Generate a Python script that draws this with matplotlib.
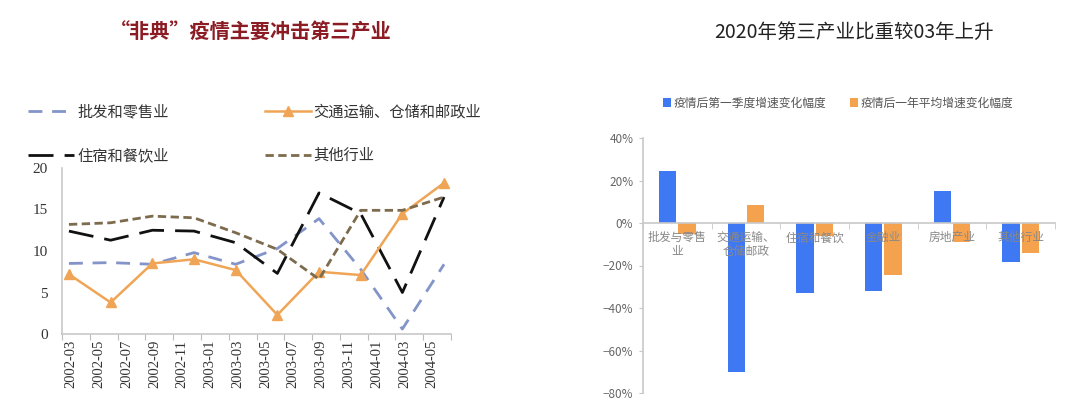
import matplotlib
matplotlib.use("Agg")
import matplotlib.pyplot as plt
import numpy as np
from matplotlib.ticker import FixedLocator, PercentFormatter

plt.rcParams['font.family'] = ['Noto Sans CJK SC', 'DejaVu Sans']

# ---------------- Left chart data ----------------
left_title = "“非典”疫情主要冲击第三产业"
month_labels = ["2002-03", "2002-05", "2002-07", "2002-09", "2002-11", "2003-01", "2003-03",
                "2003-05", "2003-07", "2003-09", "2003-11", "2004-01", "2004-03", "2004-05"]
# quarterly observations: 2002-03 ... 2004-06 (month offsets from 2002-03)
obs_month_offset = [0, 3, 6, 9, 12, 15, 18, 21, 24, 27]
wholesale = [8.5, 8.6, 8.4, 9.8, 8.4, 10.3, 13.9, 7.8, 0.6, 8.4]
transport = [7.2, 3.8, 8.5, 9.0, 7.7, 2.3, 7.5, 7.1, 14.5, 18.2]
hotel = [12.4, 11.3, 12.5, 12.4, 11.0, 7.3, 17.0, 14.5, 5.0, 16.5]
other = [13.2, 13.4, 14.2, 14.0, 12.2, 10.2, 6.6, 14.9, 14.9, 16.5]
left_series_names = ["批发和零售业", "交通运输、仓储和邮政业", "住宿和餐饮业", "其他行业"]

# ---------------- Right chart data ----------------
right_title = "2020年第三产业比重较03年上升"
industries = ["批发与零售\n业", "交通运输、\n仓储邮政", "住宿和餐饮", "金融业", "房地产业", "其他行业"]
first_quarter = [24.5, -70.0, -33.0, -32.0, 15.0, -18.5]
one_year_avg = [-5.0, 8.5, -6.0, -24.5, -9.0, -14.0]
right_series_names = ["疫情后第一季度增速变化幅度", "疫情后一年平均增速变化幅度"]

fig = plt.figure(figsize=(10.8, 4.05), dpi=100)
fig.patch.set_facecolor("white")

# ================= LEFT =================
axL = fig.add_axes([62 / 1080, 1 - 334 / 405, (451 - 62) / 1080, (334 - 168) / 405])
x = np.array(obs_month_offset) + 0.5
c_blue_line = "#8394c9"
c_orange = "#f0a556"
c_black = "#111111"
c_brown = "#7d6b4e"

h1, = axL.plot(x, wholesale, color=c_blue_line, lw=2.0, dashes=(5, 3.5))
h3, = axL.plot(x, hotel, color=c_black, lw=2.0, dashes=(9, 4))
h2, = axL.plot(x, transport, color=c_orange, lw=1.8, marker="^", ms=7,
               markerfacecolor=c_orange, markeredgecolor=c_orange)
h4, = axL.plot(x, other, color=c_brown, lw=2.0, dashes=(3, 1.6))

axL.set_xlim(0, 28)
axL.set_ylim(0, 20)
axL.set_yticks([0, 5, 10, 15, 20])
axL.set_yticklabels(["0", "5", "10", "15", "20"], family="Liberation Serif", fontsize=11, color="#333333")
axL.xaxis.set_major_locator(FixedLocator(np.arange(0, 29, 2)))
axL.set_xticklabels([])
axL.tick_params(axis="x", length=4, color="#bbbbbb", direction="out")
axL.tick_params(axis="y", length=0, pad=10)
for i, lab in enumerate(month_labels):
    axL.text(2 * i + 0.65, -0.7, lab, rotation=90, ha="center", va="top",
             family="Liberation Serif", fontsize=10.5, color="#333333")
for s in ["top", "right"]:
    axL.spines[s].set_visible(False)
for s in ["left", "bottom"]:
    axL.spines[s].set_color("#c8c8c8")
    axL.spines[s].set_linewidth(1.2)

leg = axL.legend([h1, h3, h2, h4],
                 [left_series_names[0], left_series_names[2], left_series_names[1], left_series_names[3]],
                 ncol=2, loc="lower left", bbox_to_anchor=(22 / 1080, 1 - 170 / 405),
                 bbox_transform=fig.transFigure, frameon=False, handlelength=3.0,
                 handletextpad=0.2, columnspacing=6.3, labelspacing=1.75, fontsize=11,
                 borderaxespad=0)
for t in leg.get_texts():
    t.set_color("#333333")

fig.text(251 / 1080, 1 - 32 / 405, left_title, ha="center", va="center",
         fontsize=14.5, fontweight="bold", color="#8b1c24")

# ================= RIGHT =================
axR = fig.add_axes([643 / 1080, 1 - 393 / 405, (1055 - 643) / 1080, (393 - 138) / 405])
c_blue = "#3f78f3"
c_orange_bar = "#f5a24f"
idx = np.arange(len(industries))
bw = 0.25
b1 = axR.bar(idx - bw / 2 - 0.015, first_quarter, width=bw, color=c_blue)
b2 = axR.bar(idx + bw / 2 + 0.015, one_year_avg, width=bw, color=c_orange_bar)
axR.set_xlim(-0.5, len(industries) - 0.5)
axR.set_ylim(-80, 40)
axR.set_yticks([-80, -60, -40, -20, 0, 20, 40])
axR.yaxis.set_major_formatter(PercentFormatter(decimals=0))
axR.tick_params(axis="y", labelsize=8.5, labelcolor="#666666", length=3, color="#c8c8c8", pad=4)
axR.spines["bottom"].set_position(("data", 0))
axR.set_xticks(idx)
axR.set_xticklabels(industries, fontsize=8.5, color="#888888", linespacing=1.1)
axR.set_xticks(np.arange(-0.5, len(industries)), minor=True)
axR.tick_params(axis="x", which="major", length=0, pad=6)
axR.tick_params(axis="x", which="minor", length=4, color="#c8c8c8")
for s in ["top", "right"]:
    axR.spines[s].set_visible(False)
for s in ["left", "bottom"]:
    axR.spines[s].set_color("#c8c8c8")
    axR.spines[s].set_linewidth(1.2)

legR = fig.legend([b1, b2], right_series_names, loc="center",
                  bbox_to_anchor=(838 / 1080, 1 - 103 / 405), ncol=2, frameon=False,
                  fontsize=8.5, handlelength=0.7, handleheight=0.7, handletextpad=0.2,
                  columnspacing=2.0)
for t in legR.get_texts():
    t.set_color("#555555")

fig.text(854 / 1080, 1 - 32 / 405, right_title, ha="center", va="center",
         fontsize=14, color="#222222")

fig.savefig("out.png", dpi=100, facecolor="white")
